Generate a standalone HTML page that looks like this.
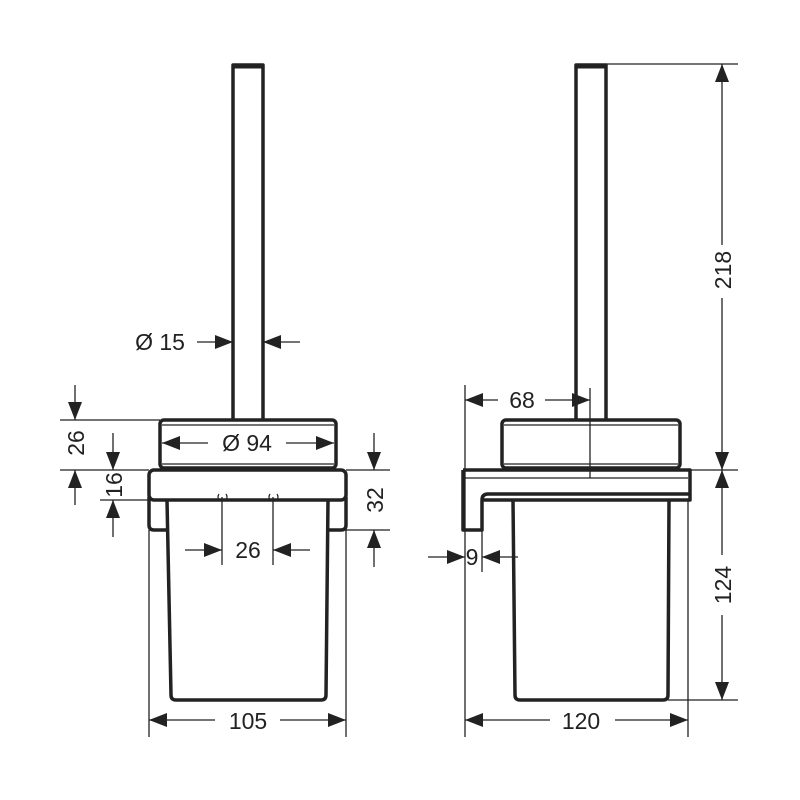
<!DOCTYPE html>
<html><head><meta charset="utf-8"><style>
html,body{margin:0;padding:0;background:#fff}
svg{display:block}
text{font-family:"Liberation Sans",sans-serif;font-size:23px;fill:#222}
</style></head><body>
<svg width="800" height="800" viewBox="0 0 800 800" xmlns="http://www.w3.org/2000/svg">
<defs>
<marker id="a" viewBox="0 0 18 14" refX="18" refY="7" markerWidth="18" markerHeight="14" markerUnits="userSpaceOnUse" orient="auto">
<path d="M0,0 L18,7 L0,14 Z" fill="#222"/></marker>
</defs>
<g fill="none" stroke="#222" stroke-width="3.5" stroke-linejoin="round">
<path d="M233,420 V65 H263 V420"/>
<line x1="233" y1="66" x2="263" y2="66" stroke-width="5"/>
<rect x="160" y="420" width="176" height="48" rx="4"/>
<rect x="149" y="470" width="197" height="30" rx="5"/>
<path d="M149,497 V525 Q149,530 154,530 H167"/>
<path d="M346,497 V525 Q346,530 341,530 H328"/>
<path d="M167,500 L171,695 Q171,700 176,700 H321 Q326,700 326,695 L328,500"/>
<path d="M576,420 V65 H606 V420"/>
<line x1="576" y1="66" x2="606" y2="66" stroke-width="5"/>
<rect x="502" y="420" width="178" height="48" rx="4"/>
<path d="M463,470 H690 V500 H482"/>
<path d="M463,470 V530 H482 V500 Q482,494 488,494 H690"/>
<path d="M513,500 L515,695 Q515,700 520,700 H663 Q668,700 668,695 L669,500"/>
</g>
<g stroke="#222" stroke-width="1.3" fill="none">
<line x1="162" y1="425" x2="334" y2="425"/><line x1="162" y1="464" x2="334" y2="464"/>
<line x1="504" y1="425" x2="678" y2="425"/><line x1="504" y1="464" x2="678" y2="464"/>
<line x1="465" y1="478" x2="688" y2="478"/>
<line x1="590" y1="388" x2="590" y2="478"/>
<line x1="60" y1="420" x2="160" y2="420"/>
<line x1="60" y1="470" x2="149" y2="470"/>
<line x1="100" y1="500" x2="149" y2="500"/>
<line x1="346" y1="470" x2="390" y2="470"/>
<line x1="346" y1="530" x2="390" y2="530"/>
<line x1="149" y1="530" x2="149" y2="737"/>
<line x1="346" y1="530" x2="346" y2="737"/>
<line x1="222" y1="497" x2="222" y2="565"/>
<line x1="273" y1="497" x2="273" y2="565"/>
<line x1="75" y1="385" x2="75" y2="420" marker-end="url(#a)"/>
<line x1="75" y1="505" x2="75" y2="470" marker-end="url(#a)"/>
<line x1="113" y1="433" x2="113" y2="470" marker-end="url(#a)"/>
<line x1="113" y1="537" x2="113" y2="500" marker-end="url(#a)"/>
<line x1="374" y1="433" x2="374" y2="470" marker-end="url(#a)"/>
<line x1="374" y1="567" x2="374" y2="530" marker-end="url(#a)"/>
<line x1="197" y1="342" x2="233" y2="342" marker-end="url(#a)"/>
<line x1="300" y1="342" x2="263" y2="342" marker-end="url(#a)"/>
<line x1="208" y1="443" x2="162" y2="443" marker-end="url(#a)"/>
<line x1="286" y1="443" x2="334" y2="443" marker-end="url(#a)"/>
<line x1="185" y1="550" x2="222" y2="550" marker-end="url(#a)"/>
<line x1="310" y1="550" x2="273" y2="550" marker-end="url(#a)"/>
<line x1="215" y1="720" x2="149" y2="720" marker-end="url(#a)"/>
<line x1="280" y1="720" x2="346" y2="720" marker-end="url(#a)"/>
<line x1="606" y1="64" x2="738" y2="64"/>
<line x1="690" y1="470" x2="738" y2="470"/>
<line x1="668" y1="700" x2="738" y2="700"/>
<line x1="465" y1="385" x2="465" y2="737"/>
<line x1="688" y1="500" x2="688" y2="737"/>
<line x1="482" y1="530" x2="482" y2="572"/>
<line x1="722" y1="245" x2="722" y2="64" marker-end="url(#a)"/>
<line x1="722" y1="298" x2="722" y2="470" marker-end="url(#a)"/>
<line x1="722" y1="555" x2="722" y2="470" marker-end="url(#a)"/>
<line x1="722" y1="615" x2="722" y2="700" marker-end="url(#a)"/>
<line x1="498" y1="400" x2="465" y2="400" marker-end="url(#a)"/>
<line x1="545" y1="400" x2="590" y2="400" marker-end="url(#a)"/>
<line x1="428" y1="557" x2="465" y2="557" marker-end="url(#a)"/>
<line x1="518" y1="557" x2="482" y2="557" marker-end="url(#a)"/>
<line x1="550" y1="720" x2="465" y2="720" marker-end="url(#a)"/>
<line x1="615" y1="720" x2="688" y2="720" marker-end="url(#a)"/>
</g>
<g stroke="#222" stroke-width="1.2" fill="none">
<path d="M219,494 q-2,3 0,6"/><path d="M226,494 q2,3 0,6"/>
<path d="M270,494 q-2,3 0,6"/><path d="M277,494 q2,3 0,6"/>
</g>
<text x="160" y="350" text-anchor="middle">Ø 15</text>
<text x="247" y="451" text-anchor="middle">Ø 94</text>
<text x="248" y="558" text-anchor="middle">26</text>
<text x="248" y="729" text-anchor="middle">105</text>
<text transform="translate(84,443) rotate(-90)" text-anchor="middle">26</text>
<text transform="translate(122,485) rotate(-90)" text-anchor="middle">16</text>
<text transform="translate(383,500) rotate(-90)" text-anchor="middle">32</text>
<text x="522" y="408" text-anchor="middle">68</text>
<text x="472" y="565" text-anchor="middle">9</text>
<text x="581" y="729" text-anchor="middle">120</text>
<text transform="translate(731,270) rotate(-90)" text-anchor="middle">218</text>
<text transform="translate(731,585) rotate(-90)" text-anchor="middle">124</text>
</svg>
</body></html>
